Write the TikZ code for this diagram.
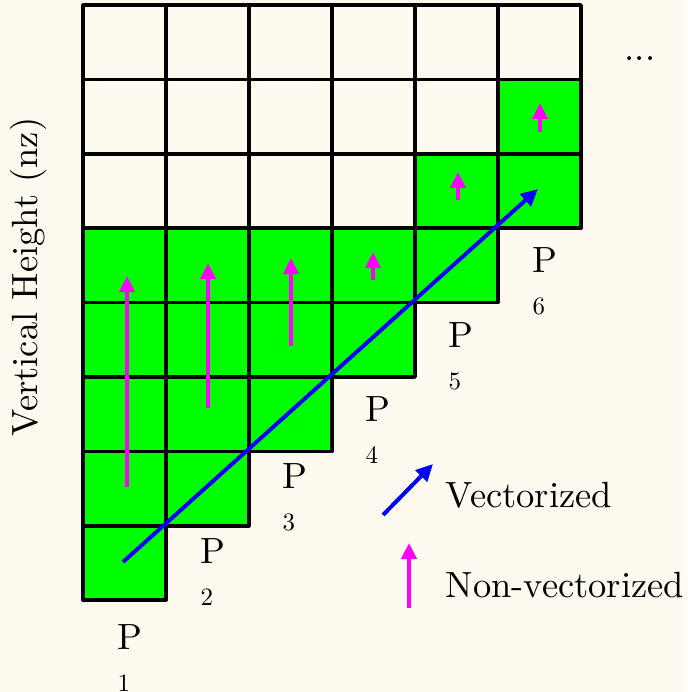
\documentclass[tikz,border=0pt]{standalone}
\usepackage{tikz}
\usetikzlibrary{positioning, arrows.meta}
\definecolor{cream}{RGB}{254,250,240}
\definecolor{cellgreen}{RGB}{0,255,0}
\definecolor{sweepmag}{RGB}{255,0,255}
\newcommand{\basesize}{\fontsize{10}{12}\selectfont}

\begin{document}
\begin{tikzpicture}[
    x=1pt, y=-1pt,
    every node/.style={font=\basesize, inner sep=0pt, scale=3.65},
    cell/.style={draw, line width=3.5pt, line join=round, fill=#1},
    cell/.default=cream,
    procnum/.style={scale=2.5/3.65, anchor=base west},
    upflow/.style={-{Triangle[length=16pt, width=15pt]}, line width=4pt, sweepmag},
    diagflow/.style={-{Triangle[length=17pt, width=16pt]}, line width=4pt, blue},
]
    \fill[cream] (0,0) rectangle (687,692);
    \useasboundingbox (0,0) rectangle (687,692);

    % empty cells on top of each column
    \foreach \c/\n in {1/3,2/3,3/3,4/3,5/2,6/1}
        \foreach \r in {1,...,\n}
            \draw[cell] ({83*\c},{5+74.4*(\r-1)}) rectangle ++(83,74.4);

    % filled cells of each processor column
    \foreach \c/\a/\b in {1/4/8,2/4/7,3/4/6,4/4/5,5/3/4,6/2/3}
        \foreach \r in {\a,...,\b}
            \draw[cell=cellgreen] ({83*\c},{5+74.4*(\r-1)}) rectangle ++(83,74.4);

    % non-vectorized sweeps
    \foreach \x/\ya/\yb in {127/487/276, 208/408/263, 291/346/258, 373/280/252, 458/200/172, 540/132/103}
        \draw[upflow] (\x,\ya) -- (\x,\yb);

    % vectorized sweep
    \draw[diagflow] (123,562) -- (538,189);

    % processor labels
    \foreach \i/\x/\y in {1/117/649, 2/200/563, 3/282/488, 4/365/421, 5/448/347, 6/532/272} {
        \node[anchor=base west] (p\i) at (\x,\y) {P};
        \node[procnum] (n\i) at ([yshift=-42pt]p\i.base west) {\i};
    }

    \node[anchor=base west] (more) at (624,61) {...};
    \node[rotate=90, anchor=base] (ylabel) at (37,277) {Vertical Height (nz)};

    % legend
    \draw[diagflow] (383,515) -- (433,464);
    \node[anchor=base west] (vec) at (445,507) {Vectorized};
    \draw[upflow] (409,608) -- (409,543);
    \node[anchor=base west] (nonvec) at (445,597) {Non-vectorized};
\end{tikzpicture}
\end{document}
